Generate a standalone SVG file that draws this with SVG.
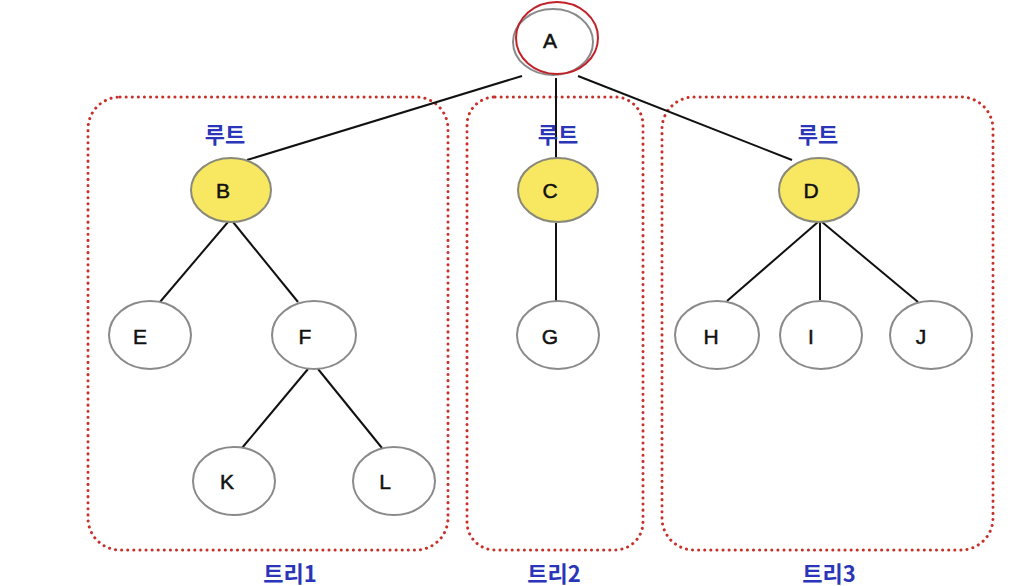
<svg xmlns="http://www.w3.org/2000/svg" width="1033" height="586" viewBox="0 0 1033 586">
<style>
.n{fill:#fff;stroke:#8a8a8a;stroke-width:2}
.y{fill:#f7e761;stroke:#8a8a7a;stroke-width:2}
.t{font-family:"Liberation Sans",Arial,sans-serif;font-size:21px;fill:#111;stroke:#111;stroke-width:0.5;text-anchor:middle;dominant-baseline:central}
.k{font-family:"Noto Sans CJK KR","Noto Sans",sans-serif;font-size:22px;font-weight:bold;fill:#2a35b8;text-anchor:middle;dominant-baseline:central}
.box{fill:none;stroke:#c8302a;stroke-width:3;stroke-dasharray:0.1 6;stroke-linecap:round}
.e{stroke:#111;stroke-width:2;fill:none}
</style>
<rect width="1033" height="586" fill="#fff"/>
<g id="boxes">
<rect class="box" x="88" y="97" width="360" height="453" rx="32"/>
<rect class="box" x="467" y="97" width="176" height="453" rx="28"/>
<rect class="box" x="662" y="97" width="331" height="453" rx="32"/>
</g>
<g id="connectors">
<line class="e" x1="522" y1="76" x2="247" y2="160"/>
<line class="e" x1="556" y1="78" x2="556" y2="158"/>
<line class="e" x1="578" y1="76" x2="792" y2="160"/>
<line class="e" x1="228" y1="222" x2="160" y2="302"/>
<line class="e" x1="233" y1="222" x2="298" y2="302"/>
<line class="e" x1="308" y1="369" x2="242" y2="448"/>
<line class="e" x1="318" y1="369" x2="382" y2="448"/>
<line class="e" x1="556" y1="223" x2="556" y2="301"/>
<line class="e" x1="818" y1="222" x2="727" y2="301"/>
<line class="e" x1="820" y1="222" x2="820" y2="300"/>
<line class="e" x1="822" y1="222" x2="918" y2="302"/>
</g>
<g id="nA"><ellipse class="n" cx="553" cy="42" rx="40" ry="33"/><text class="t" x="550" y="40">A</text>
<ellipse cx="557" cy="38" rx="41" ry="36" fill="none" stroke="#c0222a" stroke-width="2"/></g>
<g id="nB"><ellipse class="y" cx="231" cy="190" rx="40" ry="32"/><text class="t" x="223" y="190">B</text></g>
<g id="nC"><ellipse class="y" cx="558" cy="190" rx="40" ry="32"/><text class="t" x="550" y="190">C</text></g>
<g id="nD"><ellipse class="y" cx="819" cy="190" rx="40" ry="32"/><text class="t" x="811" y="190">D</text></g>
<g id="nE"><ellipse class="n" cx="150" cy="335" rx="41" ry="34"/><text class="t" x="140" y="336">E</text></g>
<g id="nF"><ellipse class="n" cx="314" cy="335" rx="42" ry="34"/><text class="t" x="305" y="336">F</text></g>
<g id="nG"><ellipse class="n" cx="558" cy="335" rx="41" ry="34"/><text class="t" x="550" y="336">G</text></g>
<g id="nH"><ellipse class="n" cx="717" cy="335" rx="42" ry="34"/><text class="t" x="711" y="336">H</text></g>
<g id="nI"><ellipse class="n" cx="821" cy="335" rx="41" ry="34"/><text class="t" x="811" y="336">I</text></g>
<g id="nJ"><ellipse class="n" cx="931" cy="335" rx="41" ry="34"/><text class="t" x="921" y="336">J</text></g>
<g id="nK"><ellipse class="n" cx="234" cy="481" rx="41" ry="34"/><text class="t" x="227" y="481">K</text></g>
<g id="nL"><ellipse class="n" cx="394" cy="481" rx="41" ry="34"/><text class="t" x="385" y="481">L</text></g>
<g id="labels">
<text class="k" x="225" y="133">루트</text>
<text class="k" x="558" y="133">루트</text>
<text class="k" x="818" y="133">루트</text>
<text class="k" x="290" y="572">트리1</text>
<text class="k" x="554" y="572">트리2</text>
<text class="k" x="829" y="572">트리3</text>
</g>
</svg>
